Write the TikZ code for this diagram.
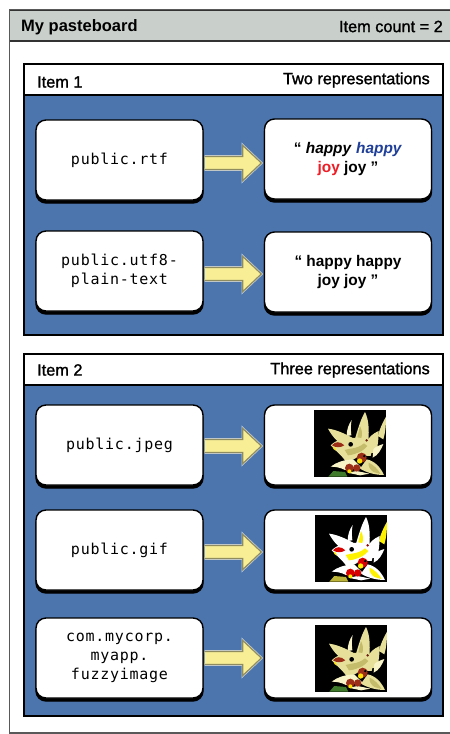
\documentclass[tikz,border=0pt]{standalone}
\usepackage{fontspec}
\setmainfont{Liberation Sans}
\newfontfamily\headfont[FakeBold=1.4]{Liberation Sans}
\newfontfamily\codefont[LetterSpace=5]{DejaVu Sans Mono}
\usetikzlibrary{shadows,calc}
\definecolor{paneblue}{HTML}{4C75AE}
\definecolor{titlegrey}{HTML}{C9CFCB}
\definecolor{arrowyellow}{HTML}{F8EE96}
\definecolor{arrowedge}{HTML}{8F8C60}
\definecolor{arrowhalo}{HTML}{C8D0D4}
\definecolor{richblue}{HTML}{1F3F98}
\definecolor{richred}{HTML}{EE1C25}
\definecolor{petal}{HTML}{E6E09A}
\definecolor{petaldark}{HTML}{C4BC6A}
\definecolor{petallight}{HTML}{F8F4C8}
\definecolor{leaf}{HTML}{3F7A2A}
\definecolor{stain}{HTML}{9C2E18}
\tikzset{
  roundbox/.style={draw=black, line width=1.4pt, fill=white, rounded corners=10pt,
    minimum width=167pt, minimum height=80pt, inner sep=0pt, align=center,
    general shadow={shadow xshift=0pt, shadow yshift=-3pt, fill=black, draw=black, rounded corners=10pt}},
  keybox/.style={roundbox, font=\codefont\fontsize{15}{19}\selectfont},
  valbox/.style={roundbox, font=\bfseries\fontsize{15.4}{19.5}\selectfont},
  itempane/.style={draw=black, line width=1.2pt, fill=paneblue},
  itemhead/.style={draw=black, line width=1.2pt, fill=white},
  headtext/.style={inner sep=0pt, font=\headfont\fontsize{16.3}{18}\selectfont},
  arrowhalo/.style={draw=arrowhalo, line width=2.6pt, line join=miter},
  arrowbody/.style={draw=arrowedge, line width=1.2pt, fill=arrowyellow, line join=miter},
}
\newcommand{\arrowpath}[3]{%
  ($(#1.east)+(1,#3-6.5)$) -- ($(#1.east -| #2.west)+(-21,#3-6.5)$) --
  ($(#1.east -| #2.west)+(-21,#3-17.5)$) -- ($(#1.east -| #2.west)+(-2.5,#3)$) --
  ($(#1.east -| #2.west)+(-21,#3+17.5)$) -- ($(#1.east -| #2.west)+(-21,#3+6.5)$) --
  ($(#1.east)+(1,#3+6.5)$)}
\newcommand{\conn}[3]{%
  \draw[arrowhalo] \arrowpath{#1}{#2}{#3};
  \draw[arrowbody] \arrowpath{#1}{#2}{#3};
}
% flower: coordinates are 3x pixels, image square (12,12)-(228,212)
\newcommand{\flowerimg}[9]{%
 \begin{scope}[shift={(#1,#2)},scale=0.33333,shift={(-12,-12)}]
  \fill[black] (12,12) rectangle (228,212);
  \clip (12,12) rectangle (228,212);
  \fill[#7] (55,212) -- (70,195) -- (105,198) -- (112,212) -- cycle;
  % far right petal
  \fill[#9] (228,32) .. controls (218,50) and (208,70) .. (204,90) -- (220,100) .. controls (226,80) and (228,60) .. (228,32) -- cycle;
  % tall petal
  \fill[#3] (165,18) .. controls (152,40) and (145,65) .. (135,98) -- (175,105) .. controls (178,70) and (176,40) .. (165,18) -- cycle;
  % thin petal
  \fill[#4] (125,42) .. controls (116,55) and (110,70) .. (110,90) -- (124,88) .. controls (122,70) and (122,55) .. (125,42) -- cycle;
  % right middle petal
  \fill[#3] (206,75) .. controls (190,82) and (176,92) .. (165,115) -- (175,142) -- (198,140) .. controls (204,120) and (206,95) .. (206,75) -- cycle;
  % white lower right
  \fill[#4] (220,114) .. controls (208,118) and (196,122) .. (190,130) -- (188,155) .. controls (204,148) and (214,130) .. (220,114) -- cycle;
  % left petal
  \fill[#3] (54,68) .. controls (75,70) and (105,82) .. (135,100) -- (112,128) .. controls (90,115) and (68,95) .. (54,68) -- cycle;
  % central mass
  \fill[#3] (62,118) .. controls (80,98) and (125,88) .. (170,102) .. controls (185,115) and (188,135) .. (182,150)
     -- (150,148) .. controls (135,160) and (118,165) .. (108,168) .. controls (100,155) and (90,145) .. (78,134) -- cycle;
  \fill[#8] (104,132) .. controls (120,126) and (140,130) .. (162,112) -- (172,120) .. controls (160,136) and (135,146) .. (114,148) -- cycle;
  \fill[#8] (150,60) .. controls (156,72) and (158,84) .. (154,96) -- (142,94) -- cycle;
  % lower left sepal
  \fill[#4] (62,182) .. controls (80,168) and (100,162) .. (130,160) -- (155,185) -- (105,192) .. controls (90,184) and (75,182) .. (62,182) -- cycle;
  % lower right sepal
  \fill[#3] (222,207) .. controls (212,185) and (195,165) .. (170,160) -- (150,188) .. controls (170,200) and (195,207) .. (222,207) -- cycle;
  \fill[#8] (176,170) .. controls (190,176) and (204,190) .. (212,204) -- (190,198) .. controls (180,190) and (174,182) .. (176,170) -- cycle;
  % bottom
  \fill[#4] (112,200) -- (140,195) -- (178,203) -- (150,208) -- cycle;
  % red lips
  \fill[#5] (66,118) .. controls (75,106) and (90,105) .. (103,118) .. controls (92,125) and (78,126) .. (66,118) -- cycle;
  \fill[#6] (68,122) .. controls (74,122) and (78,128) .. (78,134) .. controls (72,132) and (68,128) .. (68,122) -- cycle;
  \fill[#5] (155,155) circle[radius=15];
  \fill[#5] (118,186) circle[radius=13];
  \fill[#5] (140,186) circle[radius=11];
  \fill[#6] (149,165) circle[radius=8];
  \fill[#6] (118,196) circle[radius=6];
  \fill[black] (163,150) circle[radius=4];
  \fill[#5!70!black] (170,103) circle[radius=4];
  \fill[black] (122,115) circle[radius=7];
 \end{scope}
}
\begin{document}
\begin{tikzpicture}[x=1pt,y=-1pt]
\useasboundingbox (0,0) rectangle (450,734);
\fill[white] (0,0) rectangle (450,734);
% outer frame
\draw[draw=black!65, line width=1.2pt] (452,10) -- (9.5,10) -- (9.5,733) -- (452,733);
\fill[titlegrey] (10,11) rectangle (450,40.5);
\draw[draw=black!80, line width=1.2pt] (10,41) -- (450,41);
\draw[draw=black!80, line width=1.2pt] (10,10.5) -- (450,10.5);
\node[headtext, anchor=west, font=\bfseries\fontsize{16.5}{18}\selectfont] (title) at (21,27) {My pasteboard};
\node[headtext, anchor=east] (count) at (443,26.5) {Item count = 2};
% item 1
\draw[itempane] (24,64) rectangle (443,335);
\draw[itemhead] (24,64) rectangle (443,95);
\node[headtext, anchor=west] (item1) at (37,82) {Item 1};
\node[headtext, anchor=east] (rep1) at (430,80) {Two representations};
% item 2
\draw[itempane] (24,354) rectangle (443,716);
\draw[itemhead] (24,354) rectangle (443,385);
\node[headtext, anchor=west] (item2) at (37,370) {Item 2};
\node[headtext, anchor=east] (rep2) at (430,370) {Three representations};
% keys
\node[keybox] (k1) at (119.5,160) {public.rtf};
\node[keybox] (k2) at (119.5,271) {public.utf8-\\plain-text};
\node[keybox] (k3) at (119.5,445) {public.jpeg};
\node[keybox] (k4) at (119.5,550) {public.gif};
\node[keybox] (k5) at (119.5,658) {com.mycorp.\\myapp.\\fuzzyimage};
% values
\node[valbox] (v1) at (348,159) {“ \textit{happy} \textcolor{richblue}{\textit{happy}}\\\textcolor{richred}{joy} joy ”};
\node[valbox] (v2) at (348,272) {“ happy happy\\joy joy ”};
\node[roundbox] (v3) at (348,445) {};
\node[roundbox] (v4) at (348,550) {};
\node[roundbox] (v5) at (348,658) {};
% arrows
\conn{k1}{v1}{3}
\conn{k2}{v2}{3}
\conn{k3}{v3}{1}
\conn{k4}{v4}{2}
\conn{k5}{v5}{0}
% pictures
\flowerimg{314}{410}{petal}{petallight}{stain}{yellow!85!orange}{leaf}{petaldark}{petal}
\flowerimg{315}{515}{white}{white}{red!85!black}{yellow}{yellow!70!black}{yellow}{yellow}
\flowerimg{315}{625}{petal}{petallight}{stain}{yellow!85!orange}{leaf}{petaldark}{petal}
\end{tikzpicture}
\end{document}
